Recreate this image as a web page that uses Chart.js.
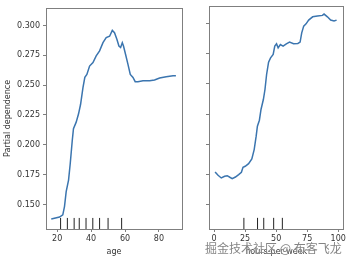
<!DOCTYPE html>
<html lang="en">
<head>
    <meta charset="UTF-8">
    <title>Partial dependence</title>
    <style>
        body {
            margin: 0;
            background: #fff;
            width: 348px;
            height: 262px;
            overflow: hidden;
            position: relative;
            font-family: 'DejaVu Sans', sans-serif;
        }
        canvas {
            position: absolute;
            left: 0;
            top: 0;
        }
        .watermark {
            position: absolute;
            left: 205px;
            top: 239px;
            font-family: 'Noto Sans CJK SC', sans-serif;
            font-size: 12px;
            color: rgba(110, 110, 110, 0.85);
            text-shadow: 0 0 1px #fff;
            white-space: nowrap;
        }
    </style>
    <script src="https://cdn.jsdelivr.net/npm/chart.js"></script>
</head>
<body>
    <canvas id="ageChart" width="348" height="262"></canvas>
    <canvas id="hoursChart" width="348" height="262"></canvas>
    <div class="watermark">掘金技术社区 @ 布客飞龙</div>

    <script>
        // partial dependence on age
        const ageX = [16.5, 21.4, 23.3, 24.3, 25.3, 26.7, 27.7, 28.9, 29.6, 31.2, 32.6, 33.8, 35.2, 36.3, 37.5, 39.1, 41.1, 43.0, 45.0, 47.0, 48.9, 50.9, 52.5, 53.8, 55.2, 56.4, 57.4, 58.4, 59.1, 60.3, 61.7, 63.1, 64.7, 66.0, 67.6, 70.6, 74.5, 77.4, 80.4, 84.3, 88.3, 90.0];
        const ageY = [0.1378, 0.1395, 0.1414, 0.1483, 0.1608, 0.1705, 0.1844, 0.2038, 0.2135, 0.2190, 0.2260, 0.2340, 0.2480, 0.2565, 0.2590, 0.2660, 0.2690, 0.2745, 0.2787, 0.2856, 0.2898, 0.2910, 0.2959, 0.2940, 0.2884, 0.2828, 0.2815, 0.2856, 0.2828, 0.2759, 0.2676, 0.2590, 0.2565, 0.2529, 0.2529, 0.2537, 0.2537, 0.2543, 0.2560, 0.2570, 0.2579, 0.2579];
        const ageDeciles = [22, 26, 30, 33, 37, 41, 45, 50, 58];
        const ageTicks = [20, 40, 60, 80];

        // partial dependence on hours-per-week
        const hoursX = [0.8, 3.2, 5.8, 8.5, 10.6, 12.7, 14.6, 17.2, 19.8, 22.0, 23.3, 25.1, 27.8, 30.4, 32.3, 33.9, 34.9, 36.5, 37.8, 39.7, 41.0, 42.3, 43.9, 45.5, 47.6, 48.9, 50.3, 51.6, 53.4, 55.6, 58.2, 60.8, 64.0, 67.5, 69.3, 70.6, 72.2, 74.1, 76.2, 79.4, 83.3, 87.3, 88.6, 91.3, 93.9, 96.6, 98.7];
        const hoursY = [0.1769, 0.1741, 0.1719, 0.1733, 0.1738, 0.1725, 0.1714, 0.1727, 0.1747, 0.1766, 0.1808, 0.1816, 0.1838, 0.1877, 0.1955, 0.2066, 0.2149, 0.2199, 0.2288, 0.2371, 0.2454, 0.2579, 0.2681, 0.2717, 0.2745, 0.2815, 0.2834, 0.2800, 0.2828, 0.2815, 0.2834, 0.2848, 0.2834, 0.2837, 0.2848, 0.2925, 0.2981, 0.3000, 0.3031, 0.3058, 0.3064, 0.3070, 0.3081, 0.3058, 0.3031, 0.3023, 0.3031];
        const hoursDeciles = [24, 35, 40, 48, 55];
        const hoursTicks = [0, 25, 50, 75, 100];

        const yTicks = [0.150, 0.175, 0.200, 0.225, 0.250, 0.275, 0.300];
        const yMin = 0.1295;
        const yMax = 0.3148;

        const lineColor = '#3b75af';
        const spineColor = '#7f7f7f';
        const textColor = '#333';
        const font = { family: 'DejaVu Sans', size: 8 };

        // rug marks at the deciles, 5% of the axis height
        function decileSets(deciles) {
            const h = (yMax - yMin) * 0.05;
            return deciles.map(d => ({
                data: [{ x: d, y: yMin }, { x: d, y: yMin + h }],
                borderColor: '#222',
                borderWidth: 1,
                pointRadius: 0
            }));
        }

        // frame around the plot area (matplotlib spines)
        const framePlugin = {
            id: 'frame',
            afterDraw(chart) {
                const a = chart.chartArea;
                const ctx = chart.ctx;
                ctx.save();
                ctx.strokeStyle = spineColor;
                ctx.lineWidth = 1;
                ctx.strokeRect(Math.round(a.left) + 0.5, Math.round(a.top) + 0.5,
                    Math.round(a.right - a.left), Math.round(a.bottom - a.top));
                ctx.restore();
            }
        };

        function makeChart(id, xs, ys, deciles, xTicks, xMin, xMax, xTitle, showY, padding, yWidth) {
            const points = xs.map((x, i) => ({ x: x, y: ys[i] }));
            return new Chart(document.getElementById(id), {
                type: 'line',
                data: {
                    datasets: [{
                        data: points,
                        borderColor: lineColor,
                        borderWidth: 1.5,
                        pointRadius: 0,
                        tension: 0
                    }].concat(decileSets(deciles))
                },
                options: {
                    responsive: false,
                    animation: false,
                    devicePixelRatio: 1,
                    layout: { padding: padding },
                    plugins: { legend: { display: false }, tooltip: { enabled: false } },
                    scales: {
                        x: {
                            type: 'linear',
                            min: xMin,
                            max: xMax,
                            afterBuildTicks: s => { s.ticks = xTicks.map(v => ({ value: v })); },
                            afterFit: s => { s.height = 33; },
                            grid: { drawOnChartArea: false, tickLength: 3, tickColor: spineColor },
                            border: { display: false },
                            ticks: { font: font, color: textColor, padding: 2, maxRotation: 0 },
                            title: { display: true, text: xTitle, font: font, color: textColor, padding: { top: 0, bottom: 5 } }
                        },
                        y: {
                            min: yMin,
                            max: yMax,
                            afterBuildTicks: s => { s.ticks = yTicks.map(v => ({ value: v })); },
                            afterFit: s => { s.width = yWidth; },
                            grid: { drawOnChartArea: false, tickLength: 3, tickColor: spineColor },
                            border: { display: false },
                            ticks: {
                                display: showY,
                                font: font,
                                color: textColor,
                                padding: 3,
                                callback: v => v.toFixed(3)
                            },
                            title: { display: showY, text: 'Partial dependence', font: font, color: textColor, padding: { top: 3, bottom: 0 } }
                        }
                    }
                },
                plugins: [framePlugin]
            });
        }

        makeChart('ageChart', ageX, ageY, ageDeciles, ageTicks, 13.4, 93.6, 'age', true,
            { top: 6, right: 166, left: 0, bottom: 0 }, 46);
        makeChart('hoursChart', hoursX, hoursY, hoursDeciles, hoursTicks, -4.1, 104.2, 'hours-per-week', false,
            { top: 6, right: 4, left: 0, bottom: 0 }, 209);
    </script>
</body>
</html>
